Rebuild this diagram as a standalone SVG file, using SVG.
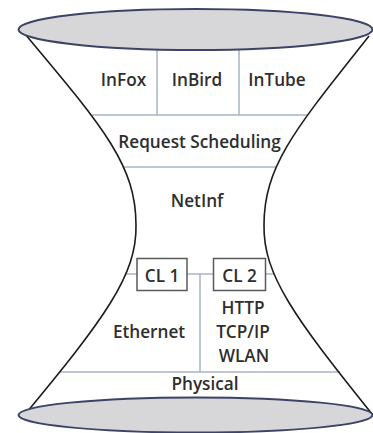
<svg xmlns="http://www.w3.org/2000/svg" width="373" height="433" viewBox="0 0 373 433">
  <style>
    .lbl { font-family: "Open Sans", "Liberation Sans", sans-serif; font-size: 17.2px; font-weight: 600; fill: #2e2e2e; text-anchor: middle; }
    .div { stroke: #a9b3c5; stroke-width: 1.5; fill: none; }
    .side { stroke: #1c1c1c; stroke-width: 1.6; fill: none; }
    .disk { fill: #d7d7da; stroke: #3c4366; stroke-width: 2; }
    .box { fill: #ffffff; stroke: #5a5a5a; stroke-width: 1.5; }
  </style>
  <rect width="373" height="433" fill="#ffffff"/>

  <g id="connectors">
    <line class="div" x1="157" y1="45" x2="157" y2="115"/>
    <line class="div" x1="239" y1="45" x2="239" y2="115"/>
    <line class="div" x1="92" y1="115" x2="308" y2="115"/>
    <line class="div" x1="124" y1="167" x2="276" y2="167"/>
    <line class="div" x1="126" y1="274" x2="274" y2="274"/>
    <line class="div" x1="200" y1="274" x2="200" y2="372"/>
    <line class="div" x1="60" y1="372" x2="340" y2="372"/>
  </g>

  <g id="outline">
    <path class="side" d="M25,34 C103,127 136,165 136,225 C137,275 105,318 22,418"/>
    <path class="side" d="M369,36 C297,127 264,165 264,225 C263,275 295,318 372,414"/>
  </g>

  <g id="top-disk">
    <ellipse class="disk" cx="195.5" cy="29.5" rx="177" ry="20.5"/>
  </g>
  <g id="bottom-disk">
    <ellipse class="disk" cx="195.5" cy="415" rx="177" ry="17.5"/>
  </g>

  <g id="infox"><text class="lbl" x="123.5" y="86">InFox</text></g>
  <g id="inbird"><text class="lbl" x="197" y="86">InBird</text></g>
  <g id="intube"><text class="lbl" x="277" y="86">InTube</text></g>
  <g id="request-scheduling"><text class="lbl" x="199.5" y="148">Request Scheduling</text></g>
  <g id="netinf"><text class="lbl" x="197" y="207">NetInf</text></g>
  <g id="cl1">
    <rect class="box" x="137" y="258.5" width="50" height="32"/>
    <text class="lbl" x="162" y="282">CL 1</text>
  </g>
  <g id="cl2">
    <rect class="box" x="213.5" y="258.5" width="52" height="32"/>
    <text class="lbl" x="239.5" y="282">CL 2</text>
  </g>
  <g id="ethernet"><text class="lbl" x="149" y="338">Ethernet</text></g>
  <g id="http-stack">
    <text class="lbl" x="243" y="313.5">HTTP</text>
    <text class="lbl" x="243" y="338">TCP/IP</text>
    <text class="lbl" x="244" y="362">WLAN</text>
  </g>
  <g id="physical"><text class="lbl" x="205" y="390">Physical</text></g>
</svg>
